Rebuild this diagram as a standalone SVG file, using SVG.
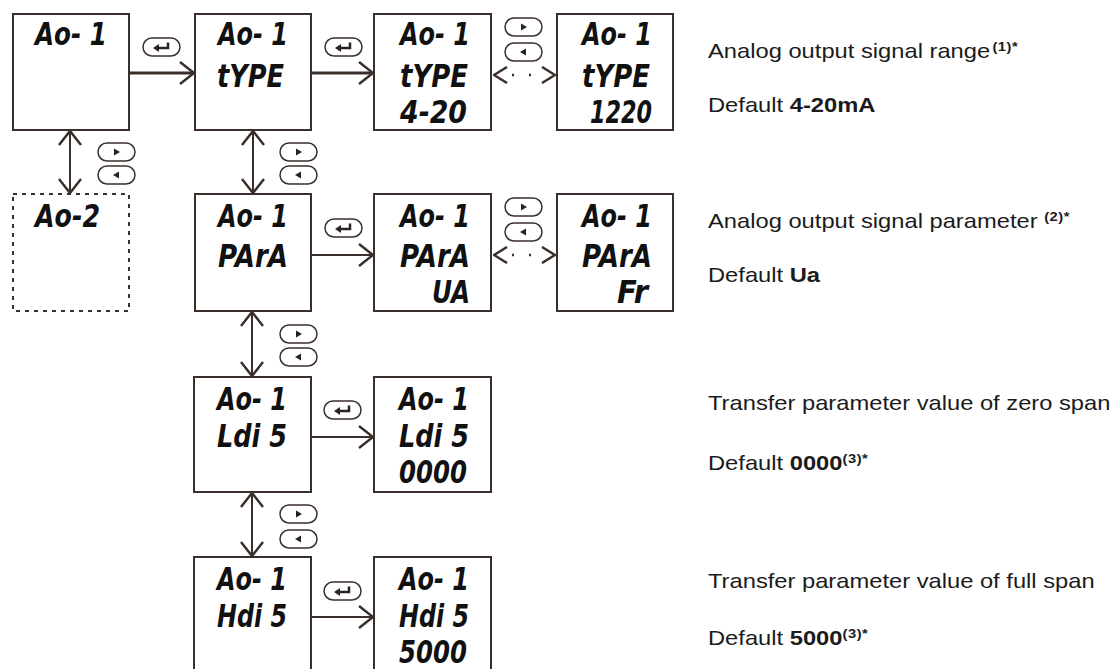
<svg xmlns="http://www.w3.org/2000/svg" xmlns:xlink="http://www.w3.org/1999/xlink" width="1119" height="669" viewBox="0 0 1119 669">
<style>
.box{fill:#fff;stroke:#3b2f2b;stroke-width:2}
.dbox{fill:#fff;stroke:#3b2f2b;stroke-width:2;stroke-dasharray:4 5}
.lcd{font-family:"DejaVu Sans","Liberation Sans",sans-serif;font-weight:bold;font-style:oblique;font-size:32px;fill:#111}
.ln{stroke:#3b2f2b;stroke-width:2;fill:none}
.lnt{stroke:#3b2f2b;stroke-width:3;fill:none}
.dot{stroke:#3b2f2b;stroke-width:2.5;fill:none;stroke-dasharray:0 18 2 15 2 100}
.btn{fill:#fff;stroke:#3b2f2b;stroke-width:1.5}
.gl{fill:#2a2220}
.txt{font-family:"Liberation Sans",Arial,sans-serif;font-size:21px;fill:#1b1b1b}
.b{font-weight:bold}
.sup{font-weight:bold;font-size:13px;letter-spacing:0.5px}
</style>
<defs>
<marker id="ah" viewBox="0 0 16 24" refX="15" refY="12" markerWidth="16" markerHeight="24" markerUnits="userSpaceOnUse" orient="auto-start-reverse">
<path d="M1,1 L15,12 L1,23" fill="none" stroke="#3b2f2b" stroke-width="2.5"/>
</marker>
<marker id="ahs" viewBox="0 0 15 18" refX="14" refY="9" markerWidth="15" markerHeight="18" markerUnits="userSpaceOnUse" orient="auto-start-reverse">
<path d="M1,1 L14,9 L1,17" fill="none" stroke="#3b2f2b" stroke-width="2.5"/>
</marker>
<g id="btnR"><rect class="btn" x="0" y="0" width="37" height="18" rx="9"/><path class="gl" d="M16,5.5 L22,9 L16,12.5 Z"/></g>
<g id="btnL"><rect class="btn" x="0" y="0" width="37" height="18" rx="9"/><path class="gl" d="M21,5.5 L15,9 L21,12.5 Z"/></g>
<g id="btnE"><rect class="btn" x="0" y="0" width="37" height="18" rx="9"/><path d="M25,4.5 L25,10 L14,10" fill="none" stroke="#2a2220" stroke-width="2.5"/><path class="gl" d="M10,10 L16,6 L16,14 Z"/></g>
</defs>

<g id="connectors">
<line class="lnt" x1="130" y1="73" x2="194" y2="73" marker-end="url(#ah)"/>
<line class="lnt" x1="312" y1="73" x2="373" y2="73" marker-end="url(#ah)"/>
<line class="dot" x1="494" y1="75" x2="555" y2="75" marker-start="url(#ahs)" marker-end="url(#ahs)"/>
<line class="ln" x1="312" y1="255" x2="373" y2="255" marker-end="url(#ah)"/>
<line class="dot" x1="494" y1="255" x2="555" y2="255" marker-start="url(#ahs)" marker-end="url(#ahs)"/>
<line class="ln" x1="312" y1="437" x2="373" y2="437" marker-end="url(#ah)"/>
<line class="ln" x1="312" y1="617" x2="373" y2="617" marker-end="url(#ah)"/>
<line class="ln" x1="70" y1="131" x2="70" y2="193" marker-start="url(#ah)" marker-end="url(#ah)"/>
<line class="ln" x1="253" y1="131" x2="253" y2="193" marker-start="url(#ah)" marker-end="url(#ah)"/>
<line class="ln" x1="252" y1="312" x2="252" y2="376" marker-start="url(#ah)" marker-end="url(#ah)"/>
<line class="ln" x1="252" y1="493" x2="252" y2="556" marker-start="url(#ah)" marker-end="url(#ah)"/>
<use xlink:href="#btnE" x="143" y="38"/>
<use xlink:href="#btnE" x="325" y="38"/>
<use xlink:href="#btnR" x="505" y="18"/>
<use xlink:href="#btnL" x="505" y="43"/>
<use xlink:href="#btnR" x="98" y="143"/>
<use xlink:href="#btnL" x="98" y="166"/>
<use xlink:href="#btnR" x="280" y="143"/>
<use xlink:href="#btnL" x="280" y="166"/>
<use xlink:href="#btnE" x="325" y="219"/>
<use xlink:href="#btnR" x="505" y="198"/>
<use xlink:href="#btnL" x="505" y="223"/>
<use xlink:href="#btnR" x="280" y="325"/>
<use xlink:href="#btnL" x="280" y="348"/>
<use xlink:href="#btnE" x="324" y="401"/>
<use xlink:href="#btnR" x="280" y="505"/>
<use xlink:href="#btnL" x="280" y="530"/>
<use xlink:href="#btnE" x="324" y="582"/>
</g>

<g id="n-ao1">
<rect class="box" x="13" y="14" width="116" height="116"/>
<text class="lcd" x="35" y="45" textLength="72" lengthAdjust="spacingAndGlyphs">Ao- 1</text>
</g>
<g id="n-type">
<rect class="box" x="195" y="14" width="116" height="116"/>
<text class="lcd" x="218" y="45" textLength="70" lengthAdjust="spacingAndGlyphs">Ao- 1</text>
<text class="lcd" x="217" y="87" textLength="67" lengthAdjust="spacingAndGlyphs">tYPE</text>
</g>
<g id="n-type-420">
<rect class="box" x="374" y="14" width="117" height="116"/>
<text class="lcd" x="400" y="45" textLength="70" lengthAdjust="spacingAndGlyphs">Ao- 1</text>
<text class="lcd" x="400" y="87" textLength="68" lengthAdjust="spacingAndGlyphs">tYPE</text>
<text class="lcd" x="400" y="123" textLength="67" lengthAdjust="spacingAndGlyphs">4-20</text>
</g>
<g id="n-type-1220">
<rect class="box" x="557" y="14" width="116" height="116"/>
<text class="lcd" x="582" y="45" textLength="70" lengthAdjust="spacingAndGlyphs">Ao- 1</text>
<text class="lcd" x="582" y="87" textLength="68" lengthAdjust="spacingAndGlyphs">tYPE</text>
<text class="lcd" x="590" y="123" textLength="62" lengthAdjust="spacingAndGlyphs">1220</text>
</g>
<g id="n-ao2">
<rect class="dbox" x="13" y="194" width="116" height="117"/>
<text class="lcd" x="35" y="227" textLength="65" lengthAdjust="spacingAndGlyphs">Ao-2</text>
</g>
<g id="n-para">
<rect class="box" x="195" y="194" width="116" height="117"/>
<text class="lcd" x="218" y="227" textLength="70" lengthAdjust="spacingAndGlyphs">Ao- 1</text>
<text class="lcd" x="218" y="267" textLength="70" lengthAdjust="spacingAndGlyphs">PArA</text>
</g>
<g id="n-para-ua">
<rect class="box" x="374" y="194" width="117" height="117"/>
<text class="lcd" x="400" y="227" textLength="70" lengthAdjust="spacingAndGlyphs">Ao- 1</text>
<text class="lcd" x="400" y="267" textLength="70" lengthAdjust="spacingAndGlyphs">PArA</text>
<text class="lcd" x="432" y="303" textLength="38" lengthAdjust="spacingAndGlyphs">UA</text>
</g>
<g id="n-para-fr">
<rect class="box" x="557" y="194" width="116" height="117"/>
<text class="lcd" x="582" y="227" textLength="70" lengthAdjust="spacingAndGlyphs">Ao- 1</text>
<text class="lcd" x="582" y="267" textLength="70" lengthAdjust="spacingAndGlyphs">PArA</text>
<text class="lcd" x="617" y="303" textLength="31" lengthAdjust="spacingAndGlyphs">Fr</text>
</g>
<g id="n-ldis">
<rect class="box" x="194" y="377" width="117" height="115"/>
<text class="lcd" x="217" y="410" textLength="70" lengthAdjust="spacingAndGlyphs">Ao- 1</text>
<text class="lcd" x="217" y="447" textLength="70" lengthAdjust="spacingAndGlyphs">Ldi 5</text>
</g>
<g id="n-ldis-0000">
<rect class="box" x="374" y="377" width="117" height="115"/>
<text class="lcd" x="399" y="410" textLength="70" lengthAdjust="spacingAndGlyphs">Ao- 1</text>
<text class="lcd" x="399" y="447" textLength="70" lengthAdjust="spacingAndGlyphs">Ldi 5</text>
<text class="lcd" x="399" y="483" textLength="68" lengthAdjust="spacingAndGlyphs">0000</text>
</g>
<g id="n-hdis">
<rect class="box" x="194" y="557" width="117" height="116"/>
<text class="lcd" x="217" y="590" textLength="70" lengthAdjust="spacingAndGlyphs">Ao- 1</text>
<text class="lcd" x="217" y="627" textLength="70" lengthAdjust="spacingAndGlyphs">Hdi 5</text>
</g>
<g id="n-hdis-5000">
<rect class="box" x="374" y="557" width="117" height="116"/>
<text class="lcd" x="399" y="590" textLength="70" lengthAdjust="spacingAndGlyphs">Ao- 1</text>
<text class="lcd" x="399" y="627" textLength="70" lengthAdjust="spacingAndGlyphs">Hdi 5</text>
<text class="lcd" x="399" y="663" textLength="68" lengthAdjust="spacingAndGlyphs">5000</text>
</g>

<g id="notes" transform="translate(708,0) scale(1.13,1)">
<text class="txt" x="0" y="58">Analog output signal range<tspan class="sup" dx="2" dy="-7">(1)*</tspan></text>
<text class="txt" x="0" y="112">Default <tspan class="b">4-20mA</tspan></text>
<text class="txt" x="0" y="228">Analog output signal parameter <tspan class="sup" dy="-7">(2)*</tspan></text>
<text class="txt" x="0" y="282">Default <tspan class="b">Ua</tspan></text>
<text class="txt" x="0" y="410">Transfer parameter value of zero span</text>
<text class="txt" x="0" y="470">Default <tspan class="b">0000</tspan><tspan class="sup" dy="-7">(3)*</tspan></text>
<text class="txt" x="0" y="588">Transfer parameter value of full span</text>
<text class="txt" x="0" y="645">Default <tspan class="b">5000</tspan><tspan class="sup" dy="-7">(3)*</tspan></text>
</g>
</svg>
